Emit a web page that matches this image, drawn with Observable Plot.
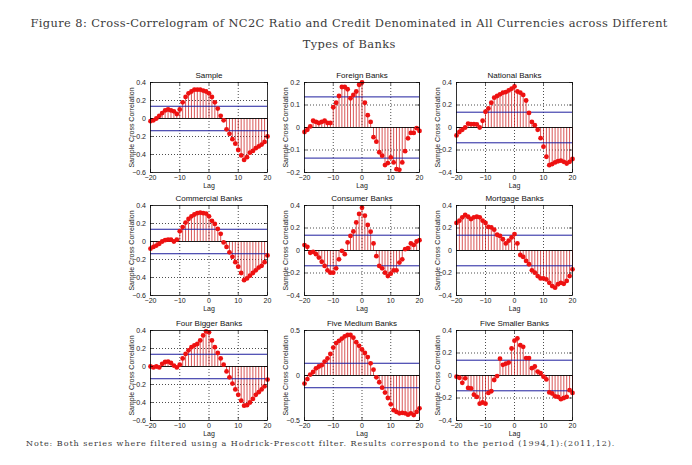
<!DOCTYPE html>
<html><head><meta charset="utf-8">
<script src="https://cdn.jsdelivr.net/npm/d3@7"></script>
<script src="https://cdn.jsdelivr.net/npm/@observablehq/plot@0.6"></script>
<style>
html,body{margin:0;padding:0;background:#fff}
#root{position:relative;width:692px;height:465px;overflow:hidden;background:#fff}
.serif{position:absolute;white-space:nowrap;font-family:"DejaVu Serif","Liberation Serif",serif;color:#3a3a3a;line-height:1}
.panel{position:absolute}
.panel svg{display:block;overflow:visible}
</style></head><body><div id="root"></div>
<script>
// ---- data ----
const lags = [-20,-19,-18,-17,-16,-15,-14,-13,-12,-11,-10,-9,-8,-7,-6,-5,-4,-3,-2,-1,0,1,2,3,4,5,6,7,8,9,10,11,12,13,14,15,16,17,18,19,20];
const panelTitles = ["Sample","Foreign Banks","National Banks","Commercial Banks","Consumer Banks","Mortgage Banks","Four Bigger Banks","Five Medium Banks","Five Smaller Banks"];
const sample = [-0.03,-0.02,0.00,0.03,0.06,0.09,0.10,0.09,0.08,0.05, 0.10,0.18,0.24,0.28,0.30,0.32,0.32,0.32,0.31,0.30,0.28, 0.24,0.18,0.11,0.03,-0.02,-0.12,-0.17,-0.23,-0.28,-0.35,-0.41,-0.46,-0.43,-0.38,-0.36,-0.33,-0.31,-0.29,-0.26,-0.20];
const foreignBanks = [-0.02,-0.01,0.005,0.03,0.025,0.02,0.025,0.03,0.02,0.02, 0.09,0.11,0.14,0.18,0.18,0.17,0.13,0.145,0.16,0.19,0.20, 0.11,0.055,0.025,-0.043,-0.063,-0.11,-0.125,-0.167,-0.158,-0.133,-0.155,-0.185,-0.188,-0.155,-0.105,-0.048,-0.024,-0.024,-0.003,-0.015];
const nationalBanks = [-0.07,-0.04,-0.02,0.0,0.035,0.03,0.03,0.027,0.0,0.06, 0.14,0.17,0.22,0.265,0.28,0.295,0.31,0.315,0.33,0.345,0.365, 0.32,0.31,0.29,0.24,0.13,0.05,0.02,-0.02,-0.095,-0.17,-0.26,-0.335,-0.325,-0.31,-0.30,-0.295,-0.305,-0.32,-0.305,-0.28];
const commercialBanks = [-0.08,-0.06,-0.045,-0.025,0.0,0.015,0.02,0.02,0.0,0.02, 0.115,0.16,0.21,0.25,0.28,0.30,0.315,0.32,0.315,0.31,0.28, 0.23,0.195,0.14,0.085,-0.01,-0.06,-0.12,-0.17,-0.23,-0.28,-0.35,-0.43,-0.41,-0.38,-0.35,-0.32,-0.29,-0.27,-0.23,-0.155];
const consumerBanks = [0.048,0.033,-0.02,-0.012,-0.033,-0.063,-0.10,-0.137,-0.176,-0.197, -0.197,-0.158,-0.078,-0.003,-0.033,0.072,0.13,0.17,0.25,0.325,0.38, 0.31,0.227,0.167,0.063,-0.05,-0.137,-0.158,-0.197,-0.227,-0.206,-0.176,-0.176,-0.107,-0.078,0.012,0.021,0.063,0.05,0.08,0.092];
const mortgageBanks = [0.245,0.265,0.295,0.316,0.30,0.28,0.295,0.30,0.295,0.265, 0.245,0.21,0.205,0.185,0.14,0.13,0.10,0.063,0.087,0.116,0.146, 0.063,-0.04,-0.057,-0.093,-0.122,-0.176,-0.197,-0.227,-0.248,-0.248,-0.257,-0.287,-0.316,-0.33,-0.30,-0.287,-0.296,-0.27,-0.227,-0.167];
const fourBiggerBanks = [0.0,-0.01,0.0,-0.01,0.03,0.05,0.055,0.04,0.01,-0.01, 0.02,0.09,0.14,0.18,0.215,0.235,0.25,0.29,0.345,0.39,0.38, 0.29,0.215,0.15,0.09,0.02,-0.055,-0.12,-0.19,-0.255,-0.315,-0.38,-0.435,-0.43,-0.40,-0.36,-0.315,-0.285,-0.255,-0.22,-0.145];
const fiveMediumBanks = [-0.09,-0.04,0.01,0.04,0.08,0.10,0.115,0.155,0.19,0.24, 0.31,0.36,0.385,0.41,0.435,0.45,0.45,0.42,0.37,0.33,0.29, 0.25,0.205,0.135,0.065,-0.02,-0.075,-0.135,-0.19,-0.25,-0.32,-0.385,-0.405,-0.42,-0.415,-0.42,-0.435,-0.42,-0.44,-0.405,-0.365];
const fiveSmallerBanks = [-0.01,-0.02,-0.065,-0.025,-0.11,-0.115,-0.17,-0.19,-0.25,-0.24, -0.25,-0.155,-0.14,-0.04,-0.005,0.15,0.095,0.105,0.115,0.24,0.31, 0.33,0.27,0.255,0.155,0.155,0.065,0.08,0.035,0.02,-0.01,-0.035,-0.15,-0.16,-0.185,-0.19,-0.21,-0.20,-0.19,-0.13,-0.155];
const xTicks = [-20,-10,0,10,20];
const yTicksA = [-0.6,-0.4,-0.2,0,0.2,0.4];
const yTicksB = [-0.2,-0.1,0,0.1,0.2];
const yTicksC = [-0.4,-0.2,0,0.2,0.4];
const yTicksD = [-0.5,0,0.5];
const confBound = 0.136;
const yLabel = "Sample Cross Correlation";
const xLabel = "Lag";
const titleLine1 = "Figure 8: Cross-Correlogram of NC2C Ratio and Credit Denominated in All Currencies across Different";
const titleLine2 = "Types of Banks";
const noteText = "Note: Both series where filtered using a Hodrick-Prescott filter. Results correspond to the period (1994,1):(2011,12).";

// ---- layout ----
const series = [sample,foreignBanks,nationalBanks,commercialBanks,consumerBanks,mortgageBanks,fourBiggerBanks,fiveMediumBanks,fiveSmallerBanks];
const yTickSets = [yTicksA,yTicksB,yTicksC,yTicksA,yTicksC,yTicksC,yTicksA,yTicksD,yTicksC];
const colLeft = [150,304,456], colW = [117,115,116];
const rowTop = [82,205,330], rowH = 90;
const M = {l:40, r:6, t:16, b:20};
const root = document.getElementById("root");
const fmt = d => d === 0 ? "0" : (d < 0 ? "\u2212" : "") + Math.abs(d);

function makePanel(i){
  const vals = series[i], ticks = yTickSets[i];
  const data = lags.map((lag,j) => ({lag, r: vals[j]}));
  const domain = [d3.min(ticks), d3.max(ticks)];
  const fw = colW[i%3], fh = rowH;
  const yGrid = ticks.filter(t => t !== 0 && t !== domain[0] && t !== domain[1]);
  const xGrid = xTicks.filter(t => t !== -20 && t !== 20);
  const tc = "#000";
  const chart = Plot.plot({
    width: M.l+fw+M.r, height: M.t+fh+M.b,
    marginLeft: M.l, marginRight: M.r, marginTop: M.t, marginBottom: M.b,
    style: {fontFamily:'"Liberation Sans",Arial,sans-serif', fontSize:"7px", background:"transparent", color:"#1a1a1a"},
    x: {domain:[-20,20], axis:null},
    y: {domain, axis:null},
    marks: [
      Plot.ruleX(xGrid, {x:d=>d, stroke:tc, strokeWidth:0.7, strokeDasharray:"1,2"}),
      Plot.ruleY(yGrid, {y:d=>d, stroke:tc, strokeWidth:0.7, strokeDasharray:"1,2"}),
      Plot.ruleX(data, {x:"lag", y1:0, y2:"r", stroke:"#cc1f1f", strokeWidth:0.75}),
      Plot.ruleY([0], {stroke:tc, strokeWidth:0.9}),
      Plot.ruleY([confBound,-confBound], {y:d=>d, stroke:"#1f1f9e", strokeWidth:1}),
      Plot.dot(data, {x:"lag", y:"r", r:2.4, fill:"#ee1111", stroke:"none"}),
      Plot.frame({stroke:tc, strokeWidth:0.8}),
      Plot.tickX(xTicks, {x:d=>d, stroke:tc, strokeWidth:0.6, insetTop:fh-3}),
      Plot.tickX(xTicks, {x:d=>d, stroke:tc, strokeWidth:0.6, insetBottom:fh-3}),
      Plot.tickY(ticks, {y:d=>d, stroke:tc, strokeWidth:0.6, insetRight:fw-3}),
      Plot.tickY(ticks, {y:d=>d, stroke:tc, strokeWidth:0.6, insetLeft:fw-3}),
      Plot.text(xTicks, {x:d=>d, frameAnchor:"bottom", textAnchor:"middle", lineAnchor:"middle", dy:5.5, text:fmt, fill:"#1a1a1a"}),
      Plot.text(ticks, {y:d=>d, frameAnchor:"left", textAnchor:"end", lineAnchor:"middle", dx:-4.5, text:fmt, fill:"#1a1a1a"}),
      Plot.text([panelTitles[i]], {text:d=>d, frameAnchor:"top", textAnchor:"middle", lineAnchor:"middle", dy:-7, fontSize:8, fill:"#111"}),
      Plot.text([xLabel], {text:d=>d, frameAnchor:"bottom", textAnchor:"middle", lineAnchor:"middle", dy:13.5, fill:"#1a1a1a"}),
      Plot.text([yLabel], {text:d=>d, frameAnchor:"left", textAnchor:"middle", rotate:-90, lineAnchor:"middle", dx:-19, fill:"#1a1a1a"})
    ]
  });
  const div = document.createElement("div");
  div.className = "panel";
  div.style.left = (colLeft[i%3]-M.l)+"px";
  div.style.top = (rowTop[Math.floor(i/3)]-M.t)+"px";
  div.appendChild(chart);
  root.appendChild(div);
}
for (let i=0;i<9;i++) makePanel(i);

// ---- serif texts ----
function addText(str, fs, baseline){
  const el = document.createElement("div");
  el.className = "serif";
  el.style.fontSize = fs+"px";
  el.textContent = str;
  el.style.top = (baseline - 0.86*fs)+"px";
  el.style.left = "0px";
  root.appendChild(el);
  return el;
}
const t1 = addText(titleLine1, 11.4, 28);
let w1 = t1.getBoundingClientRect().width;
const ls1 = (637 - w1)/titleLine1.length;
t1.style.letterSpacing = ls1+"px";
w1 = t1.getBoundingClientRect().width;
t1.style.left = (349 - w1/2 + ls1/2)+"px";
const t2 = addText(titleLine2, 11.4, 49);
t2.style.letterSpacing = ls1+"px";
const w2 = t2.getBoundingClientRect().width;
t2.style.left = (349 - w2/2 + ls1/2)+"px";
const t3 = addText(noteText, 8, 446.5);
const w3 = t3.getBoundingClientRect().width;
t3.style.letterSpacing = ((589 - w3)/noteText.length)+"px";
t3.style.left = "26px";
</script>
</body></html>
